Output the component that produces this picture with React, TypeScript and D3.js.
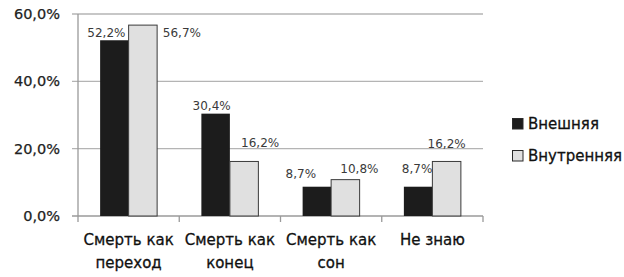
import * as d3 from "d3";

const categories = [
  ["Смерть как", "переход"],
  ["Смерть как", "конец"],
  ["Смерть как", "сон"],
  ["Не знаю"],
];
const seriesNames = ["Внешняя", "Внутренняя"];
const outer = [52.2, 30.4, 8.7, 8.7];
const inner = [56.7, 16.2, 10.8, 16.2];
const yTicks = [0, 20, 40, 60];

const fmt = (v: number) => v.toFixed(1).replace(".", ",") + "%";

// label nudges (dx from bar centre, dy from bar top), as the original placed them
const nudges = [
  [[-8, -3], [39, 12]],
  [[-4, -3.5], [16, -14.5]],
  [[-16, -8.7], [14, -6.7]],
  [[-1, -13.7], [0, -13.5]],
];

const colors = ["#1c1c1c", "#e0e0e0"];
const font = "'DejaVu Sans', Verdana, sans-serif";

export default function App() {
  const left = 78;
  const right = 483;
  const top = 14;
  const bottom = 216;

  const idx = categories.map((_, i) => String(i));
  const x = d3.scaleBand().domain(idx).range([left, right]).paddingInner(0.437).paddingOuter(0.2185);
  const xs = d3.scaleBand().domain(["0", "1"]).range([0, x.bandwidth()]);
  const y = d3.scaleLinear().domain([0, 60]).range([bottom, top]);
  const step = x.step();
  const series = [outer, inner];

  return (
    <svg width={624} height={277} style={{ position: "absolute", left: 0, top: 0 }} fontFamily={font}>
      <rect width={624} height={277} fill="#fff" />
      {yTicks.map((t) => (
        <g key={t}>
          {t > 0 && <line x1={72} x2={right} y1={y(t)} y2={y(t)} stroke="#b4b4b4" strokeWidth={1.3} />}
          <text x={60} y={y(t) + 5} textAnchor="end" fontSize={14.5} fill="#222" stroke="#222" strokeWidth={0.25}>
            {fmt(t)}
          </text>
        </g>
      ))}
      <line x1={72} x2={right} y1={bottom} y2={bottom} stroke="#9a9a9a" strokeWidth={1.3} />
      <line x1={left} x2={left} y1={top} y2={bottom} stroke="#9a9a9a" strokeWidth={1.3} />
      {d3.range(categories.length + 1).map((i) => (
        <line key={i} x1={left + i * step} x2={left + i * step} y1={bottom} y2={bottom + 6} stroke="#9a9a9a" strokeWidth={1.3} />
      ))}
      {series.map((vals, s) =>
        vals.map((v, i) => {
          const bx = x(String(i))! + xs(String(s))!;
          const w = xs.bandwidth();
          const [dx, dy] = nudges[i][s];
          return (
            <g key={`${s}-${i}`}>
              <rect
                x={bx}
                y={y(v)}
                width={w}
                height={bottom - y(v)}
                fill={colors[s]}
                stroke={s === 1 ? "#3a3a3a" : "none"}
                strokeWidth={1}
              />
              <text x={bx + w / 2 + dx} y={y(v) + dy} textAnchor="middle" fontSize={12} fill="#3a3a3a">
                {fmt(v)}
              </text>
            </g>
          );
        })
      )}
      {categories.map((lines, i) => (
        <text key={i} x={x(String(i))! + x.bandwidth() / 2} textAnchor="middle" fontSize={15} fill="#111" stroke="#111" strokeWidth={0.3}>
          {lines.map((l, j) => (
            <tspan key={j} x={x(String(i))! + x.bandwidth() / 2} y={245 + j * 23}>
              {l}
            </tspan>
          ))}
        </text>
      ))}
      {seriesNames.map((n, s) => (
        <g key={n} transform={`translate(512,${118 + s * 32})`}>
          <rect x={0.5} y={0.5} width={10.5} height={10.5} fill={colors[s]} stroke="#2a2a2a" strokeWidth={1} />
          <text x={16} y={11} fontSize={15} fill="#111" stroke="#111" strokeWidth={0.3}>
            {n}
          </text>
        </g>
      ))}
    </svg>
  );
}
